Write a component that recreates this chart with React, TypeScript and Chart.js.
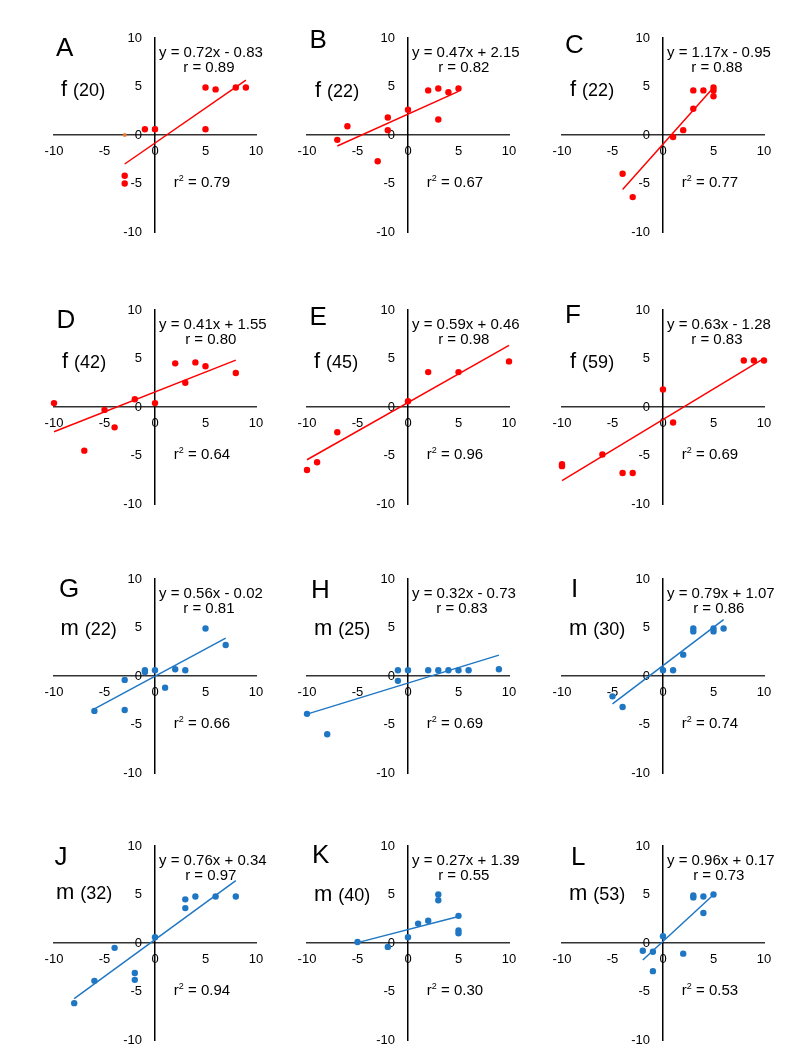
import React, { useEffect, useRef } from "react";
import { Chart, registerables } from "chart.js";

Chart.register(...registerables);

const FONT = "'Liberation Sans', Arial, sans-serif";

// ---- panel labels ----
const panelLetters = ["A", "B", "C", "D", "E", "F", "G", "H", "I", "J", "K", "L"];
const groups = ["f", "f", "f", "f", "f", "f", "m", "m", "m", "m", "m", "m"];
const ages = ["(20)", "(22)", "(22)", "(42)", "(45)", "(59)", "(22)", "(25)", "(30)", "(32)", "(40)", "(53)"];
const equations = [
  "y = 0.72x - 0.83", "y = 0.47x + 2.15", "y = 1.17x - 0.95",
  "y = 0.41x + 1.55", "y = 0.59x + 0.46", "y = 0.63x - 1.28",
  "y = 0.56x - 0.02", "y = 0.32x - 0.73", "y = 0.79x + 1.07",
  "y = 0.76x + 0.34", "y = 0.27x + 1.39", "y = 0.96x + 0.17",
];
const rTexts = ["0.89", "0.82", "0.88", "0.80", "0.98", "0.83", "0.81", "0.83", "0.86", "0.97", "0.55", "0.73"];
const r2Texts = ["0.79", "0.67", "0.77", "0.64", "0.96", "0.69", "0.66", "0.69", "0.74", "0.94", "0.30", "0.53"];
const slopes = [0.72, 0.47, 1.17, 0.41, 0.59, 0.63, 0.56, 0.32, 0.79, 0.76, 0.27, 0.96];
const intercepts = [-0.83, 2.15, -0.95, 1.55, 0.46, -1.28, -0.02, -0.73, 1.07, 0.34, 1.39, 0.17];

// ---- axis ticks ----
const tickValues = [-10, -5, 0, 5, 10];

// ---- data points ----
const xA = [-3, -3, -1, 0, 5, 5, 6, 8, 9];
const yA = [-4.2, -5.0, 0.6, 0.6, 4.9, 0.6, 4.7, 4.9, 4.9];
const xAextra = [-3, 0];
const yAextra = [0, 0.6];

const xB = [-7, -6, -3, -2, -2, 0, 2, 3, 3, 4, 5];
const yB = [-0.5, 0.9, -2.7, 1.8, 0.5, 2.6, 4.6, 4.8, 1.6, 4.4, 4.8];

const xC = [-4, -3, 1, 2, 3, 3, 4, 5, 5, 5];
const yC = [-4.0, -6.4, -0.2, 0.5, 2.7, 4.6, 4.6, 4.9, 4.6, 4.0];

const xD = [-10, -7, -5, -4, -2, 0, 2, 3, 4, 5, 8];
const yD = [0.4, -4.5, -0.3, -2.1, 0.8, 0.4, 4.5, 2.5, 4.6, 4.2, 3.5];

const xE = [-10, -9, -7, 0, 2, 5, 10];
const yE = [-6.5, -5.7, -2.6, 0.6, 3.6, 3.6, 4.7];

const xF = [-10, -10, -6, -4, -3, 0, 1, 8, 9, 10];
const yF = [-5.9, -6.1, -4.9, -6.8, -6.8, 1.8, -1.6, 4.8, 4.8, 4.8];

const xG = [-6, -3, -3, -1, -1, 0, 1, 2, 3, 5, 7];
const yG = [-3.6, -0.4, -3.5, 0.4, 0.6, 0.6, -1.2, 0.7, 0.6, 4.9, 3.2];

const xH = [-10, -8, -1, -1, 0, 2, 3, 4, 5, 6, 9];
const yH = [-3.9, -6.0, -0.5, 0.6, 0.6, 0.6, 0.6, 0.6, 0.6, 0.6, 0.7];

const xI = [-5, -4, 0, 1, 2, 3, 3, 5, 5, 6];
const yI = [-2.1, -3.2, 0.6, 0.6, 2.2, 4.9, 4.6, 4.9, 4.6, 4.9];

const xJ = [-8, -6, -4, -2, -2, 0, 3, 3, 4, 6, 8];
const yJ = [-6.2, -3.9, -0.5, -3.1, -3.8, 0.6, 4.5, 3.6, 4.8, 4.8, 4.8];

const xK = [-5, -2, 0, 1, 2, 3, 3, 5, 5, 5];
const yK = [0.1, -0.4, 0.6, 2.0, 2.3, 5.0, 4.4, 2.8, 1.3, 1.0];

const xL = [-2, -1, -1, 0, 2, 3, 3, 4, 4, 5];
const yL = [-0.8, -0.9, -2.9, 0.7, -1.1, 4.9, 4.7, 4.8, 3.1, 5.0];

const panelX = [xA, xB, xC, xD, xE, xF, xG, xH, xI, xJ, xK, xL];
const panelY = [yA, yB, yC, yD, yE, yF, yG, yH, yI, yJ, yK, yL];

// ---- layout (axis-crossing positions on the page, label offsets in px) ----
const colCenters = [154.5, 408, 663];
const rowCenters = [135, 406.5, 676, 942.5];
const letterDx = [-99, -98.5, -98, -98.5, -98.5, -98, -96, -97, -92, -100.5, -96, -92];
const letterDy = [-79.5, -87, -82, -79.5, -82.5, -84, -79, -78.5, -79, -78, -80, -78];
const groupDx = [-94, -93, -93, -93, -94, -93, -94.5, -94, -94, -99, -94, -94];
const groupDy = [-39.5, -38.5, -39.5, -39, -39, -39.5, -41.5, -41.5, -41.5, -44.5, -42, -43];
const CANVAS_W = 254;
const CANVAS_H = 250;
const PAD = { left: 26, right: 26, top: 38, bottom: 18 };

const RED = "#FF0000";
const BLUE = "#1F77C4";
const ORANGE = "#F07A30";

const textPlugin = {
  id: "panelText",
  afterDraw(chart: any) {
    const o = chart.options.plugins.panelText;
    if (!o) return;
    const ctx = chart.ctx as CanvasRenderingContext2D;
    const ox = chart.scales.x.getPixelForValue(0);
    const oy = chart.scales.y.getPixelForValue(0);
    const i = o.index;
    ctx.save();
    ctx.fillStyle = "#000";
    ctx.textBaseline = "alphabetic";
    ctx.textAlign = "left";
    // panel letter
    ctx.font = `26px ${FONT}`;
    ctx.fillText(o.letter, ox + letterDx[i], oy + letterDy[i]);
    // group (age)
    const gx = ox + groupDx[i];
    const gy = oy + groupDy[i];
    ctx.font = `22px ${FONT}`;
    ctx.fillText(o.group, gx, gy);
    const gw = ctx.measureText(o.group).width;
    ctx.font = `18px ${FONT}`;
    const sw = ctx.measureText(" ").width;
    ctx.fillText(o.age, gx + gw + sw * 1.2, gy);
    // equation
    ctx.font = `15px ${FONT}`;
    const ew = ctx.measureText(o.eq).width;
    ctx.fillText(o.eq, ox + 4, oy - 78);
    ctx.textAlign = "center";
    ctx.fillText(`r = ${o.r}`, ox + 4 + ew / 2 - 2, oy - 63);
    // r squared
    ctx.textAlign = "left";
    const rest = ` = ${o.r2}`;
    const w1 = ctx.measureText("r").width;
    ctx.font = `9px ${FONT}`;
    const w2 = ctx.measureText("2").width;
    ctx.font = `15px ${FONT}`;
    const w3 = ctx.measureText(rest).width;
    const total = w1 + w2 + w3;
    const sx = ox + 47 - total / 2;
    const by = oy + 52;
    ctx.fillText("r", sx, by);
    ctx.font = `9px ${FONT}`;
    ctx.fillText("2", sx + w1, by - 6);
    ctx.font = `15px ${FONT}`;
    ctx.fillText(rest, sx + w1 + w2, by);
    ctx.restore();
  },
};

function Panel({ index }: { index: number }) {
  const ref = useRef<HTMLCanvasElement | null>(null);
  const row = Math.floor(index / 3);
  const col = index % 3;
  const cx = colCenters[col];
  const cy = rowCenters[row];

  useEffect(() => {
    if (!ref.current) return;
    const xs = panelX[index];
    const ys = panelY[index];
    const color = groups[index] === "f" ? RED : BLUE;
    const pts = xs.map((x, i) => ({ x, y: ys[i] }));
    const minX = Math.min(...xs);
    const maxX = Math.max(...xs);
    const fit = [
      { x: minX, y: slopes[index] * minX + intercepts[index] },
      { x: maxX, y: slopes[index] * maxX + intercepts[index] },
    ];
    const datasets: any[] = [
      {
        type: "line",
        data: fit,
        borderColor: color,
        borderWidth: 1.5,
        pointRadius: 0,
        fill: false,
        clip: false,
      },
      {
        type: "scatter",
        data: pts,
        backgroundColor: color,
        borderColor: color,
        borderWidth: 0,
        pointRadius: 3.2,
        clip: false,
      },
    ];
    if (index === 0) {
      datasets.push({
        type: "scatter",
        data: xAextra.map((x, i) => ({ x, y: yAextra[i] })),
        backgroundColor: ORANGE,
        borderWidth: 0,
        pointRadius: [2, 3],
        clip: false,
      });
    }
    const axisCommon = {
      type: "linear",
      min: -10,
      max: 10,
      grid: { display: false, drawTicks: false },
      afterBuildTicks: (scale: any) => {
        scale.ticks = tickValues.map((v) => ({ value: v }));
      },
      ticks: {
        color: "#000",
        font: { family: FONT, size: 13 },
        autoSkip: false,
        maxRotation: 0,
      },
    };
    const chart = new Chart(ref.current, {
      type: "scatter",
      data: { datasets },
      options: {
        responsive: false,
        animation: false,
        layout: { padding: PAD },
        plugins: {
          legend: { display: false },
          tooltip: { enabled: false },
          panelText: {
            index,
            letter: panelLetters[index],
            group: groups[index],
            age: ages[index],
            eq: equations[index],
            r: rTexts[index],
            r2: r2Texts[index],
          },
        } as any,
        scales: {
          x: {
            ...axisCommon,
            position: { y: 0 },
            border: { display: true, color: "#333", width: 1.5 },
            ticks: { ...axisCommon.ticks, padding: 9 },
          } as any,
          y: {
            ...axisCommon,
            position: { x: 0 },
            border: { display: true, color: "#000", width: 1.5 },
            ticks: {
              ...axisCommon.ticks,
              callback: (v: any) => `${v}\u2003`,
            },
          } as any,
        },
      },
      plugins: [textPlugin],
    });
    return () => chart.destroy();
  }, [index]);

  return (
    <canvas
      ref={ref}
      width={CANVAS_W}
      height={CANVAS_H}
      style={{
        position: "absolute",
        left: cx - PAD.left - 101,
        top: cy - PAD.top - 97,
        width: CANVAS_W,
        height: CANVAS_H,
      }}
    />
  );
}

export default function App() {
  return (
    <div style={{ position: "absolute", left: 0, top: 0, width: 800, height: 1057, overflow: "hidden" }}>
      {panelLetters.map((_, i) => (
        <Panel key={i} index={i} />
      ))}
    </div>
  );
}
